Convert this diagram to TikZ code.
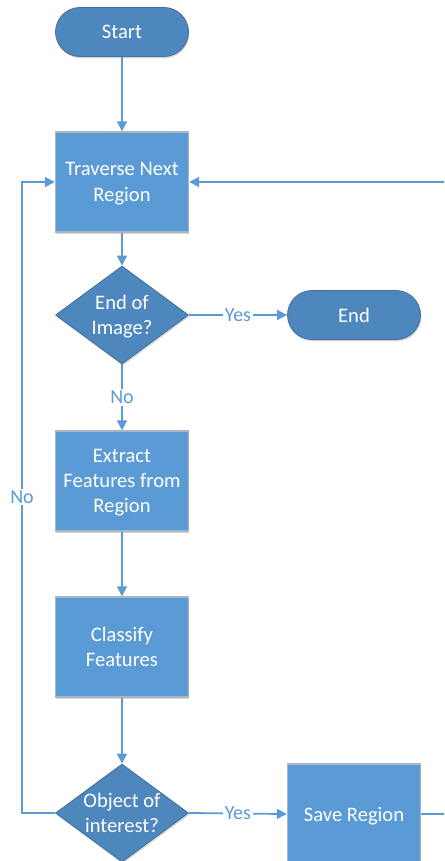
\documentclass[tikz,border=0pt]{standalone}
\usepackage{fontspec}
\setmainfont{Carlito}
\usetikzlibrary{shapes.geometric,arrows.meta,shadows}
\definecolor{boxblue}{HTML}{5B9BD5}
\definecolor{darkblue}{HTML}{4E86BE}
\definecolor{lineblue}{HTML}{5B9BD5}
\definecolor{termedge}{HTML}{41719C}
\definecolor{boxedge}{HTML}{A8B6C6}

\begin{document}
\begin{tikzpicture}[x=0.5pt,y=-0.5pt,
  font=\fontsize{10.3pt}{12.5pt}\selectfont,
  softshadow/.style={drop shadow={shadow xshift=0.4pt,shadow yshift=-0.9pt,opacity=0.16,fill=black}},
  terminal/.style={rectangle,rounded corners=12.25pt,minimum width=66.5pt,minimum height=24.5pt,
    fill=darkblue,draw=termedge,line width=0.4pt,text=white,text depth=0pt,softshadow},
  process/.style={rectangle,minimum width=66.5pt,minimum height=50pt,fill=boxblue,
    draw=boxedge,line width=0.7pt,text=white,align=center,text depth=0pt,softshadow},
  decision/.style={diamond,minimum width=66.5pt,minimum height=49pt,inner sep=0pt,
    fill=darkblue,draw=termedge,line width=0.4pt,softshadow},
  dtext/.style={text=white,align=center,inner sep=0pt,text depth=0pt},
  flow/.style={draw=lineblue,line width=0.9pt,-{Triangle[length=5pt,width=5pt]}},
  tag/.style={fill=white,text=lineblue,inner sep=1pt,font=\fontsize{10pt}{12pt}\selectfont}]

  \useasboundingbox (0,0) rectangle (444,861);
  \clip (0,0) rectangle (444,861);

  % nodes
  \node[terminal] (start) at (122,32) {Start};
  \node[process] (trav) at (122,182) {Traverse Next\\[0.5pt]Region};
  \node[decision,label={[dtext]center:{End of\\Image?}}] (endimg) at (122,315) {};
  \node[terminal] (endn) at (354,315) {End};
  \node[process] (extract) at (122,481) {Extract\\Features from\\Region};
  \node[process] (classify) at (122,647) {Classify\\Features};
  \node[decision,label={[dtext]center:{Object of\\interest?}}] (obj) at (122,813) {};
  \node[process] (save) at (354,814) {Save Region};

  \coordinate (loopL) at (22,497);
  \coordinate (loopR) at (480,497);

  % connectors
  \draw[flow] (start) -- (trav);
  \draw[flow] (trav) -- (endimg);
  \draw[flow] (endimg.east) -- node[tag] {Yes} (endn.west);
  \draw[flow] (endimg.south) -- node[tag] {No} (extract.north);
  \draw[flow] (extract) -- (classify);
  \draw[flow] (classify) -- (obj);
  \draw[flow] (obj.east) -- node[tag] {Yes} (save.west);
  \draw[flow] (obj.west) -| (loopL) node[tag] {No} |- (trav.west);
  \draw[flow] (save.east) -| (loopR) |- (trav.east);
\end{tikzpicture}
\end{document}
